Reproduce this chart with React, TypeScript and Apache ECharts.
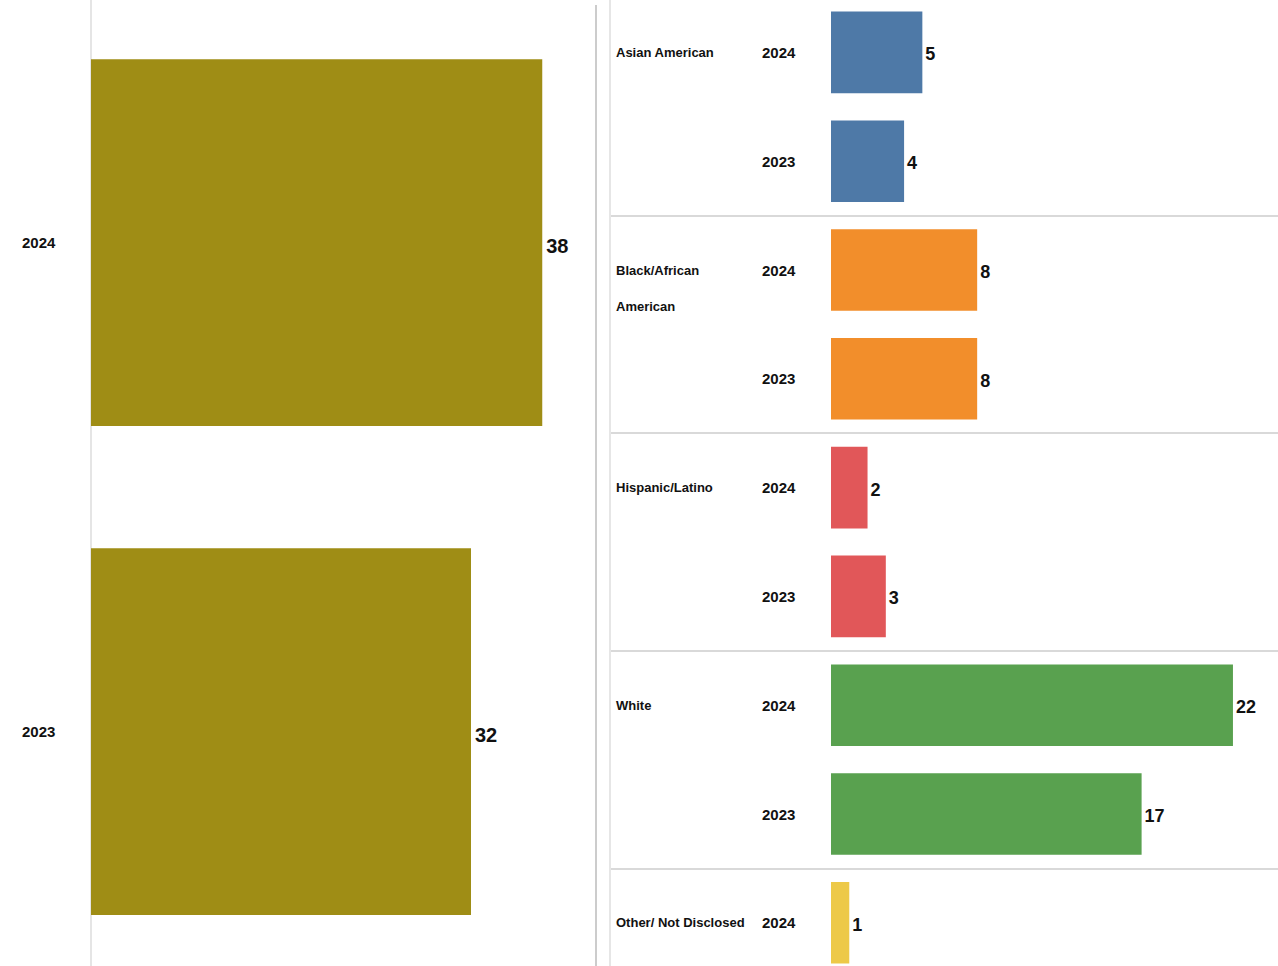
import React, { useEffect, useRef } from "react";
import * as echarts from "echarts";

// Left panel: totals by year
const totalYears = ["2024", "2023"];
const totalValues = [38, 32];
const totalColor = "#9F8D15";

// Right panel: by race / ethnicity
const groups = ["Asian American", "Black/African American", "Hispanic/Latino", "White", "Other/ Not Disclosed"];
const values2024 = [5, 8, 2, 22, 1];
const values2023: (number | null)[] = [4, 8, 3, 17, null];
const groupColors = ["#4E79A7", "#F28E2B", "#E15759", "#59A14F", "#EDC948"];

const FONT = "'Liberation Sans', Arial, sans-serif";

type Row = { key: string; group: string; year: string; value: number; color: string; first: boolean };

function buildRows(): Row[] {
  const rows: Row[] = [];
  groups.forEach((g, i) => {
    rows.push({ key: g + "|2024", group: g, year: "2024", value: values2024[i], color: groupColors[i], first: true });
    const v = values2023[i];
    if (v !== null && v !== undefined) {
      rows.push({ key: g + "|2023", group: g, year: "2023", value: v, color: groupColors[i], first: false });
    }
  });
  return rows;
}

function wrapLabel(text: string, maxChars: number): string {
  if (text.length <= maxChars) return text;
  const words = text.split(" ");
  const lines: string[] = [];
  let cur = "";
  words.forEach((w) => {
    const next = cur ? cur + " " + w : w;
    if (next.length > maxChars && cur) {
      lines.push(cur);
      cur = w;
    } else cur = next;
  });
  if (cur) lines.push(cur);
  // keep the first line on the row centre
  const pad = new Array(lines.length - 1).fill("").join("\n");
  return (lines.length > 1 ? pad + "\n" : "") + lines.join("\n");
}

export default function App() {
  const ref = useRef<HTMLDivElement>(null);
  useEffect(() => {
    if (!ref.current) return;
    const chart = echarts.init(ref.current, null, { renderer: "svg" });
    const rows = buildRows();
    const rowKeys = rows.map((r) => r.key);
    const rowH = 108.8;
    const rightH = rowH * rows.length;

    const yearText = { fontSize: 15, fontWeight: "bold", color: "#111", fontFamily: FONT };
    const nameText = { fontSize: 13, fontWeight: "bold", color: "#111", fontFamily: FONT };

    const option: any = {
      animation: false,
      backgroundColor: "#ffffff",
      textStyle: { fontFamily: FONT },
      grid: [
        { left: 91, top: 0, width: 475, height: 978, containLabel: false },
        { left: 831, top: 0, width: 438.5, height: rightH, containLabel: false },
        { left: 610, top: 0, width: 668, height: rightH, containLabel: false },
      ],
      xAxis: [
        { gridIndex: 0, type: "value", min: 0, max: 40, show: false },
        { gridIndex: 1, type: "value", min: 0, max: 24, show: false },
        { gridIndex: 2, type: "value", min: 0, max: 1, show: false },
      ],
      yAxis: [
        {
          gridIndex: 0,
          type: "category",
          inverse: true,
          data: totalYears,
          axisLine: { show: true, lineStyle: { color: "#dcdcdc", width: 1.5 } },
          axisTick: { show: false },
          axisLabel: { align: "left", margin: 69, ...yearText },
        },
        {
          gridIndex: 1,
          type: "category",
          inverse: true,
          data: rowKeys,
          axisLine: { show: false },
          axisTick: { show: false },
          axisLabel: {
            align: "left",
            margin: 69,
            ...yearText,
            interval: 0,
            formatter: (v: string) => v.split("|")[1],
          },
        },
        {
          gridIndex: 1,
          type: "category",
          inverse: true,
          position: "left",
          offset: 0,
          data: rowKeys,
          axisLine: { show: false },
          axisTick: { show: false },
          axisLabel: {
            align: "left",
            margin: 215,
            ...nameText,
            lineHeight: 36,
            interval: 0,
            formatter: (v: string) => {
              const r = rows.find((x) => x.key === v);
              return r && r.first ? wrapLabel(r.group, 20) : "";
            },
          },
        },
        {
          gridIndex: 2,
          type: "category",
          inverse: true,
          data: rowKeys,
          axisLine: { show: true, lineStyle: { color: "#e6e6e6", width: 2 } },
          axisTick: { show: false },
          axisLabel: { show: false },
          splitLine: {
            show: true,
            interval: (index: number) => index > 0 && index < rows.length && rows[index].first,
            lineStyle: { color: "#d9d9d9", width: 2 },
          },
        },
      ],
      graphic: [
        {
          type: "line",
          shape: { x1: 596, y1: 7, x2: 596, y2: 982 },
          style: { stroke: "#cccccc", lineWidth: 2 },
          silent: true,
        },
      ],
      series: [
        {
          type: "bar",
          xAxisIndex: 0,
          yAxisIndex: 0,
          data: totalValues,
          barCategoryGap: "25%",
          itemStyle: { color: totalColor },
          label: {
            show: true,
            position: "right",
            distance: 4,
            fontSize: 20,
            fontWeight: "bold",
            color: "#111",
            fontFamily: FONT,
            offset: [0, 3],
          },
        },
        {
          type: "bar",
          xAxisIndex: 1,
          yAxisIndex: 1,
          data: rows.map((r) => ({ value: r.value, itemStyle: { color: r.color } })),
          barCategoryGap: "25%",
          label: {
            show: true,
            position: "right",
            distance: 3,
            fontSize: 18,
            fontWeight: "bold",
            color: "#111",
            fontFamily: FONT,
            offset: [0, 2],
          },
        },
      ],
    };
    chart.setOption(option);
    return () => chart.dispose();
  }, []);

  return (
    <div
      ref={ref}
      style={{ position: "fixed", left: 0, top: -2, width: 1278, height: 982, background: "#fff" }}
    />
  );
}
